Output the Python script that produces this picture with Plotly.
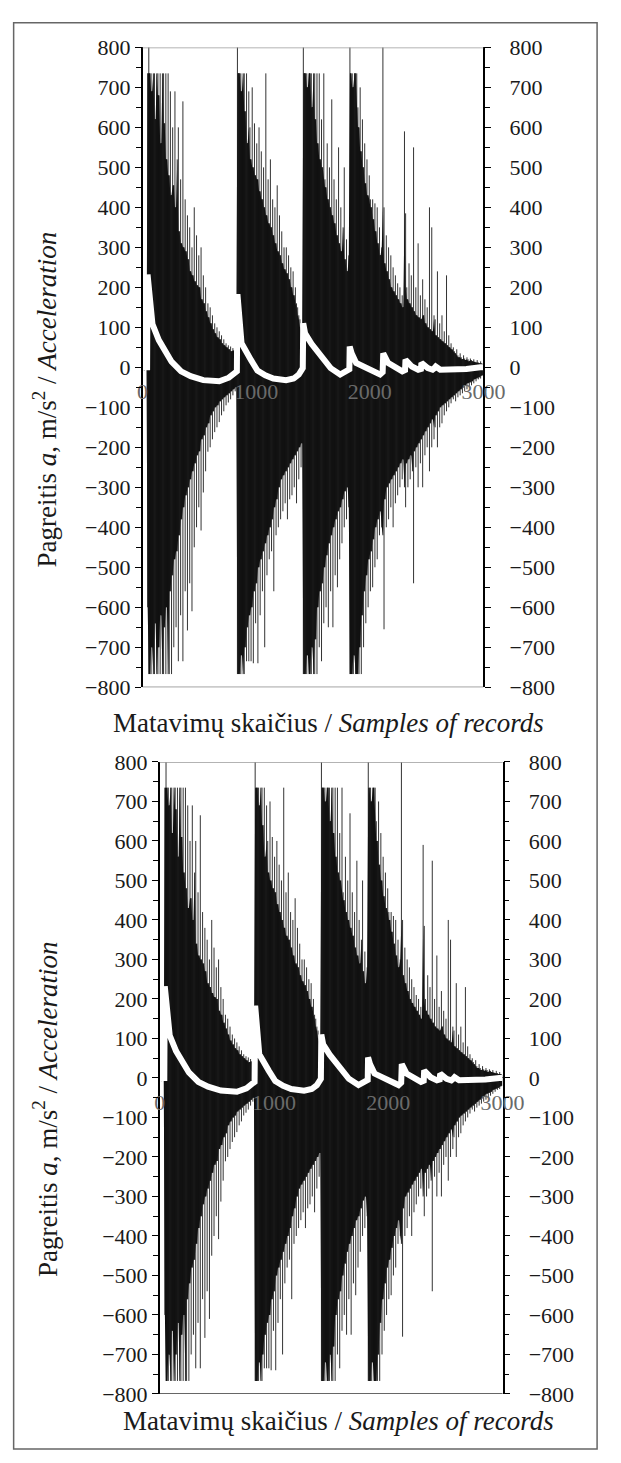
import plotly.graph_objects as go

W, H = 621, 1463

# ---------------- data ----------------
# sample index of each plotted oscillation peak pair (every 10 records)
SAMPLES = list(range(5, 3000, 10))

POS_PEAKS = (
    [4, 6, 3, 5, 735, 820]
    + [735, 735, 690, 735, 735, 620, 735, 735, 680, 735, 560, 735, 735, 610, 735, 520, 735]
    + [480, 690, 430, 600, 455, 690, 400, 520]
    + [600, 340, 470, 310, 665, 300, 420, 290, 380, 270]
    + [350, 240, 300, 230, 400, 215, 330, 205, 280, 200]
    + [300, 170, 230, 160, 200, 140, 160, 125, 150, 110]
    + [130, 95, 110, 85, 100, 75, 90, 70, 80, 60]
    + [70, 55, 60, 50, 55, 45, 52, 40, 48, 42, 45, 38]
    + [820, 735, 735, 735, 690, 735, 735]
    + [640, 735, 560, 690, 600, 520, 700, 500, 610, 480, 560]
    + [470, 600, 440, 540, 420, 500, 400, 735, 380, 470, 360, 520]
    + [350, 420, 330, 400, 310, 455, 290, 380, 280, 340, 260, 300, 245]
    + [300, 235, 280, 220, 250, 200, 240, 180, 200, 160, 150, 130, 120, 100, 90]
    + [820, 735, 735, 735, 700, 735, 735, 735, 650, 735, 735, 620, 735]
    + [560, 735, 520, 620, 500, 735, 470]
    + [450, 560, 420, 500, 400, 670, 380, 470, 360, 420]
    + [330, 550, 310, 400, 290, 350, 500, 270, 320, 240, 280]
    + [820, 735, 735, 700, 735, 735, 735, 650]
    + [600, 700, 540, 620, 500, 560, 460, 520, 430, 480, 420]
    + [400, 420, 370, 410, 340, 400, 310, 350, 280, 300, 820]
    + [400, 260, 330, 240, 300, 220, 280, 200, 250, 190, 230, 180, 210, 170, 200, 160, 180, 150, 590]
    + [385, 200, 170, 260, 160, 230, 150, 550, 140, 200, 130, 310, 125, 180, 120]
    + [220, 130, 170, 110, 150, 100, 400, 95, 350, 90, 130]
    + [120, 80, 240, 75, 110, 70, 130, 65, 90, 60, 230, 55, 80, 50]
    + [60, 45, 50, 40, 35, 45, 30, 25, 35, 25, 20, 30, 22, 18, 25, 20, 15, 22, 18, 15,
       20, 14, 12, 18, 12, 10, 15, 10, 8]
)

NEG_PEAKS = (
    [-5, -8, -4, -6, -600, -767]
    + [-767, -767, -700, -767, -767, -640, -767, -767, -700, -767, -620, -767, -767, -650, -767, -600, -767]
    + [-767, -560, -767, -520, -700, -480, -650, -460]
    + [-735, -420, -620, -380, -735, -350, -560, -320, -658, -300]
    + [-540, -280, -610, -260, -450, -240, -400, -220, -350, -210]
    + [-408, -180, -313, -170, -260, -150, -211, -140, -200, -120]
    + [-180, -110, -162, -100, -150, -95, -137, -85, -120, -80]
    + [-110, -75, -95, -70, -88, -65, -80, -60, -70, -55, -60, -50]
    + [-767, -767, -767, -767, -720, -767, -767]
    + [-700, -735, -650, -735, -620, -735, -600, -740, -560, -640, -540]
    + [-740, -500, -620, -480, -560, -460, -700, -440, -520, -420, -480, -400]
    + [-460, -380, -560, -350, -420, -330, -400, -300, -380, -280, -360, -270, -340]
    + [-260, -380, -250, -330, -240, -320, -230, -300, -220, -340, -210, -280, -200, -250, -190]
    + [-767, -767, -767, -767, -720, -767, -767, -767, -700, -767, -767, -680, -767]
    + [-600, -700, -560, -735, -540, -640, -500]
    + [-600, -470, -650, -440, -560, -420, -650, -400, -520, -380]
    + [-550, -360, -480, -350, -440, -330, -400, -310, -380, -300, -350]
    + [-767, -767, -767, -767, -720, -767, -767, -767]
    + [-767, -700, -767, -620, -700, -560, -640, -520, -600, -480, -560]
    + [-460, -550, -430, -500, -400, -480, -380, -420, -360, -400, -420]
    + [-655, -330, -400, -300, -380, -290, -350, -280, -400, -270, -340, -260, -320, -250, -300, -240, -280, -230, -300]
    + [-350, -240, -300, -230, -280, -220, -260, -540, -210, -250, -200, -300, -190, -240, -180]
    + [-300, -170, -220, -160, -200, -150, -260, -140, -200, -130, -180]
    + [-150, -120, -200, -110, -150, -100, -140, -95, -120, -90, -110, -85, -100, -80]
    + [-90, -75, -80, -70, -85, -65, -75, -60, -70, -55, -65, -50, -60, -45, -55, -40, -50, -38, -45, -35,
       -40, -30, -35, -28, -30, -25, -28, -22, -20]
)

# white curve (sample, value)
CURVE_X = [0, 40, 44, 55, 70, 87, 143, 199, 255, 339, 423, 535, 600, 675, 759, 815, 830,
           835, 845, 861, 871, 955, 1011, 1080, 1151, 1263, 1330, 1375, 1410,
           1414, 1430, 1487, 1571, 1655, 1739, 1796, 1820,
           1823, 1840, 1880, 1964, 2048, 2090, 2113,
           2118, 2160, 2244, 2286, 2310,
           2314, 2370, 2426, 2450,
           2454, 2510, 2552, 2565, 2580, 2620, 2700, 2850, 2972, 3000]
CURVE_Y = [0, 0, 232, 195, 145, 108, 68, 39, 14, -10, -22, -32, -35, -35, -26, -14, -10,
           183, 130, 75, 60, 18, -8, -20, -28, -32, -28, -18, -2,
           110, 85, 59, 26, -2, -18, -10, -5,
           52, 35, 11, -2, -14, -18, -12,
           35, 11, -6, -10, -7,
           19, 2, -6, -4,
           11, -2, -6, -3, 2, -6, -6, -4, 0, 0]

X_TICKS = [0, 1000, 2000, 3000]
Y_RANGE = [-800, 800]

assert len(POS_PEAKS) == len(SAMPLES) == len(NEG_PEAKS), (len(POS_PEAKS), len(NEG_PEAKS))

# dense core of the oscillation = lower of each neighbouring pair of peaks
CORE_POS = [min(POS_PEAKS[k], POS_PEAKS[min(k + 1, len(POS_PEAKS) - 1)]) for k in range(len(POS_PEAKS))]
CORE_NEG = [max(NEG_PEAKS[k], NEG_PEAKS[min(k + 1, len(NEG_PEAKS) - 1)]) for k in range(len(NEG_PEAKS))]

# ---------------- figure ----------------
FONT = '"Liberation Serif", "DejaVu Serif", "Times New Roman", serif'
TICK_FONT = dict(family=FONT, size=22, color="#1a1a1a")
TITLE_FONT = dict(family=FONT, size=27, color="#1a1a1a")


def px_x(p):
    return p / W


def px_y(p):
    return 1 - p / H


panels = [
    dict(left=143, right=500, top=36, bottom=687, ytitle=(41, 394), xtitle=(338, 723)),
    dict(left=161, right=520, top=763, bottom=1406, ytitle=(41, 1116), xtitle=(348, 1433)),
]

spike_x, spike_y = [], []
for s, n, p in zip(SAMPLES, NEG_PEAKS, POS_PEAKS):
    spike_x += [s, s, None]
    spike_y += [n, p, None]

fig = go.Figure()
layout = dict(
    width=W, height=H, margin=dict(l=0, r=0, t=0, b=0),
    paper_bgcolor="white", plot_bgcolor="rgba(0,0,0,0)", showlegend=False,
)
shapes, annotations = [], []

for i, pnl in enumerate(panels):
    xa = "xaxis" if i == 0 else "xaxis2"
    xr = "x" if i == 0 else "x2"
    ya_left = "yaxis" if i == 0 else "yaxis3"
    yr_left = "y" if i == 0 else "y3"
    ya_right = "yaxis2" if i == 0 else "yaxis4"
    yr_right = "y2" if i == 0 else "y4"

    xdom = [px_x(pnl["left"]), px_x(pnl["right"])]
    ydom = [px_y(pnl["bottom"]), px_y(pnl["top"])]
    mid = (ydom[0] + ydom[1]) / 2

    # dense black core
    fig.add_trace(go.Scatter(x=SAMPLES, y=CORE_NEG, mode="lines", line=dict(width=0, color="black"),
                             xaxis=xr, yaxis=yr_left, hoverinfo="skip"))
    fig.add_trace(go.Scatter(x=SAMPLES, y=CORE_POS, mode="lines", line=dict(width=0, color="black"),
                             fill="tonexty", fillcolor="black",
                             xaxis=xr, yaxis=yr_left, hoverinfo="skip"))
    # individual peaks
    fig.add_trace(go.Scatter(x=spike_x, y=spike_y, mode="lines",
                             line=dict(color="#1c1c1c", width=0.9), xaxis=xr, yaxis=yr_left,
                             hoverinfo="skip"))
    fig.add_trace(go.Scatter(x=CURVE_X, y=CURVE_Y, mode="lines",
                             line=dict(color="white", width=6), xaxis=xr, yaxis=yr_left,
                             hoverinfo="skip"))
    fig.add_trace(go.Scatter(x=[0], y=[0], mode="markers", marker=dict(opacity=0),
                             xaxis=xr, yaxis=yr_right, hoverinfo="skip"))

    layout[xa] = dict(domain=xdom, range=[0, 3000], anchor="free", position=mid,
                      tickvals=X_TICKS, ticks="", showline=False, showgrid=False,
                      zeroline=False, tickfont=dict(family=FONT, size=22, color="#6a6a6a"),
                      layer="above traces", ticklabelstandoff=9, fixedrange=True)
    common_y = dict(domain=ydom, range=Y_RANGE, dtick=100, tick0=0, showgrid=False,
                    ticks="outside", ticklen=6, tickwidth=1.2, tickcolor="black",
                    showline=True, linecolor="black", linewidth=1.5,
                    minor=dict(dtick=50, ticks="outside", ticklen=5, tickcolor="black",
                               tickwidth=1.2, showgrid=False),
                    tickfont=TICK_FONT, fixedrange=True)
    layout[ya_left] = dict(common_y, anchor=xr, side="left", zeroline=True,
                           zerolinecolor="#555", zerolinewidth=1, ticklabelstandoff=0)
    layout[ya_right] = dict(common_y, anchor=xr, side="right", overlaying=yr_left,
                            zeroline=False, ticklabelstandoff=14)

    # frame top (light) and bottom lines
    shapes.append(dict(type="line", xref=f"{xr} domain", yref=yr_left, x0=0, x1=1,
                       y0=800, y1=800, line=dict(color="#9a9a9a", width=1.5)))
    shapes.append(dict(type="line", xref=f"{xr} domain", yref=yr_left, x0=0, x1=1,
                       y0=-800, y1=-800, line=dict(color="#333", width=1.2)))

    yt = pnl["ytitle"]
    annotations.append(dict(text="Pagreitis <i>a</i>, m/s<sup>2</sup> / <i>Acceleration</i>",
                            x=px_x(yt[0]), y=px_y(yt[1]), xref="paper", yref="paper",
                            textangle=-90, showarrow=False, font=TITLE_FONT,
                            xanchor="center", yanchor="middle"))
    xt = pnl["xtitle"]
    annotations.append(dict(text="Matavimų skaičius / <i>Samples of records</i>",
                            x=px_x(xt[0]), y=px_y(xt[1]), xref="paper", yref="paper",
                            showarrow=False, font=TITLE_FONT,
                            xanchor="center", yanchor="middle"))

# outer frame
shapes.append(dict(type="rect", xref="paper", yref="paper", x0=px_x(8), x1=px_x(619),
                   y0=px_y(1462), y1=px_y(11), line=dict(color="#666", width=1.5),
                   layer="below"))

layout["shapes"] = shapes
layout["annotations"] = annotations
fig.update_layout(**layout)

fig.write_html("out.html")
